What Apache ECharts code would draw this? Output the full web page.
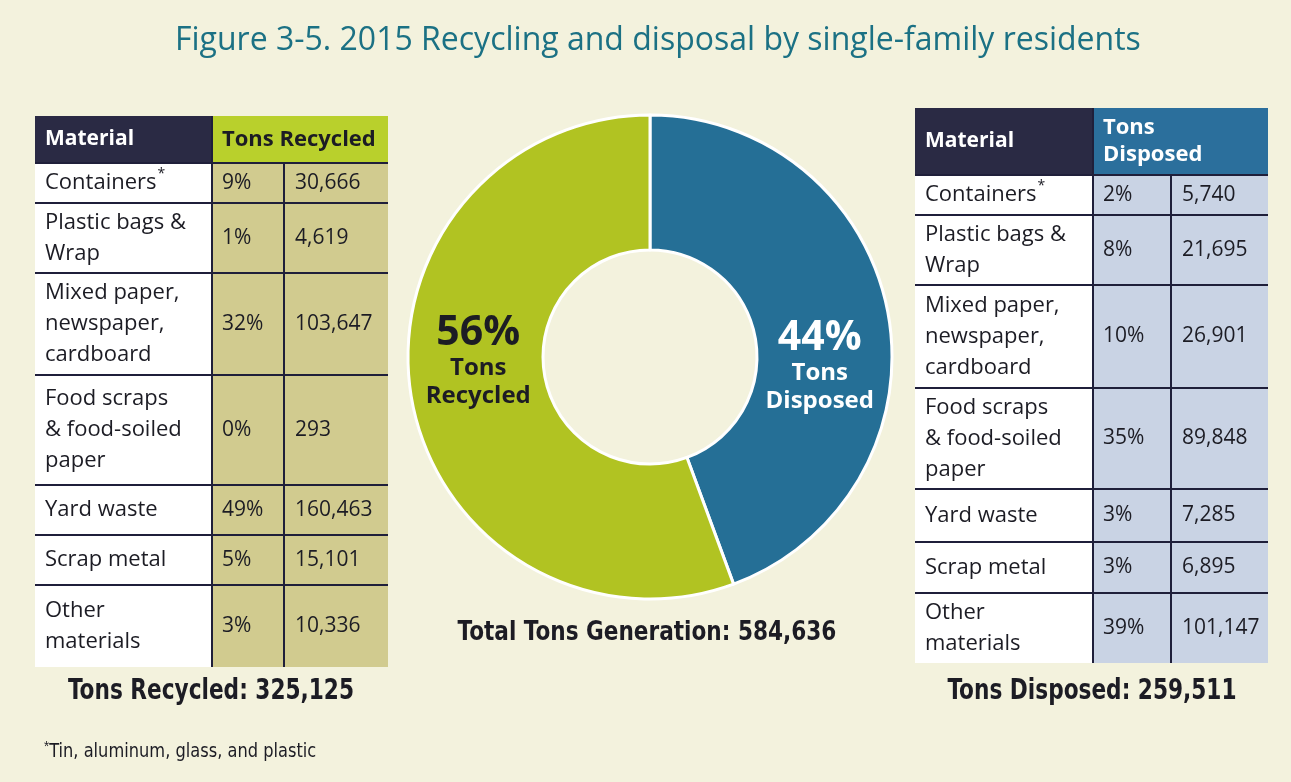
<!DOCTYPE html>
<html>
<head>
<meta charset="utf-8">
<title>2015 Recycling and disposal by single-family residents</title>
<script src="https://cdn.jsdelivr.net/npm/echarts@6/dist/echarts.min.js"></script>
<style>
  html, body { margin: 0; padding: 0; background: #f3f2dd; }
  #chart { width: 1291px; height: 782px; }
</style>
</head>
<body>
<div id="chart"></div>
<script>
// Data
const materials = [
  'Containers*',
  'Plastic bags &\nWrap',
  'Mixed paper,\nnewspaper,\ncardboard',
  'Food scraps\n& food-soiled\npaper',
  'Yard waste',
  'Scrap metal',
  'Other\nmaterials'
]
const recycledPct = [9, 1, 32, 0, 49, 5, 3]
const recycledTons = [30666, 4619, 103647, 293, 160463, 15101, 10336]
const disposedPct = [2, 8, 10, 35, 3, 3, 39]
const disposedTons = [5740, 21695, 26901, 89848, 7285, 6895, 101147]
const footnote = 'Tin, aluminum, glass, and plastic'

const sum = arr => arr.reduce((a, b) => a + b, 0)
const fmt = n => n.toLocaleString('en-US')
const totalRecycled = sum(recycledTons)
const totalDisposed = sum(disposedTons)
const totalGenerated = totalRecycled + totalDisposed

// Styles / layout
const FONT = '"Open Sans", "Noto Sans", sans-serif'
const NARROW = '"Liberation Sans Narrow", "DejaVu Sans Condensed", "Roboto Condensed", Lato, sans-serif'
const INK = '#1c1c24'
const LINE = '#1f1f3a'
const GREEN = '#b1c322'
const BLUE = '#256f96'

const leftTable = {
  x: 35, y: 116, cols: [177, 72, 104], header: 47,
  rows: [40, 70, 102, 110, 50, 50, 82],
  headText: 'Tons Recycled', headBg: '#b9d02c', headColor: INK,
  cellBg: '#d1cb8f', pct: recycledPct, tons: recycledTons
}
const rightTable = {
  x: 915, y: 108, cols: [178, 78, 97], header: 67,
  rows: [40, 70, 103, 101, 53, 51, 70],
  headText: 'Tons\nDisposed', headBg: '#2b6f9c', headColor: '#ffffff',
  cellBg: '#c9d3e4', pct: disposedPct, tons: disposedTons
}

const materialText = (m) => m.endsWith('*')
  ? { text: m.slice(0, -1) + '{s|*}', rich: { s: { fontSize: 14, verticalAlign: 'top', padding: [0, 0, 12, 1], fill: INK, fontFamily: FONT } } }
  : { text: m }

// Build table cells as graphic elements
function buildTable (t) {
  const els = []
  const x1 = t.x + t.cols[0]
  const x2 = x1 + t.cols[1]
  const x3 = x2 + t.cols[2]
  const totalH = t.header + sum(t.rows)

  // header
  els.push({ type: 'rect', shape: { x: t.x, y: t.y, width: t.cols[0], height: t.header }, style: { fill: '#2a2a44' } })
  els.push({ type: 'rect', shape: { x: x1, y: t.y, width: x3 - x1, height: t.header }, style: { fill: t.headBg } })
  els.push({ type: 'text', x: t.x + 10, y: t.y + t.header / 2, style: { text: 'Material', fill: '#ffffff', font: 'bold 21px ' + FONT, verticalAlign: 'middle' } })
  els.push({ type: 'text', x: x1 + 10, y: t.y + t.header / 2, style: { text: t.headText, fill: t.headColor, font: 'bold 22px ' + FONT, verticalAlign: 'middle', lineHeight: 27 } })

  let y = t.y + t.header
  t.rows.forEach((h, i) => {
    const cy = y + h / 2
    els.push({ type: 'rect', shape: { x: t.x, y: y, width: t.cols[0], height: h }, style: { fill: '#ffffff' } })
    els.push({ type: 'rect', shape: { x: x1, y: y, width: x3 - x1, height: h }, style: { fill: t.cellBg } })
    const mt = materialText(materials[i])
    els.push({ type: 'text', x: t.x + 10, y: cy, z: 5, style: Object.assign({ fill: INK, font: '22px ' + FONT, verticalAlign: 'middle', lineHeight: 31 }, mt) })
    els.push({ type: 'text', x: x1 + 10, y: cy, z: 5, style: { text: t.pct[i] + '%', fill: INK, font: '21px ' + FONT, verticalAlign: 'middle' } })
    els.push({ type: 'text', x: x2 + 11, y: cy, z: 5, style: { text: fmt(t.tons[i]), fill: INK, font: '21px ' + FONT, verticalAlign: 'middle' } })
    // line above row
    els.push({ type: 'line', z: 4, shape: { x1: t.x, y1: y, x2: x3, y2: y }, style: { stroke: LINE, lineWidth: 2 } })
    y += h
  })
  // vertical separators
  els.push({ type: 'line', z: 4, shape: { x1: x1, y1: t.y, x2: x1, y2: t.y + totalH }, style: { stroke: LINE, lineWidth: 2 } })
  els.push({ type: 'line', z: 4, shape: { x1: x2, y1: t.y + t.header, x2: x2, y2: t.y + totalH }, style: { stroke: LINE, lineWidth: 2 } })
  return els
}

// bold condensed caption, squeezed a little to match the original narrow face
const caption = (text, x, y, size, squeeze) => ({
  type: 'text', x: x, y: y, scaleX: squeeze,
  style: { text: text, fill: INK, font: 'bold ' + size + 'px ' + NARROW, align: 'center', verticalAlign: 'middle' }
})

const chart = echarts.init(document.getElementById('chart'))

const option = {
  backgroundColor: '#f3f2dd',
  animation: false,
  title: {
    text: 'Figure 3-5. 2015 Recycling and disposal by single-family residents',
    left: 170,
    top: 20,
    textStyle: { color: '#1b7184', fontSize: 32, fontWeight: 'normal', fontFamily: FONT }
  },
  series: [{
    type: 'pie',
    center: [650, 357],
    radius: [107, 242],
    startAngle: 90,
    clockwise: true,
    silent: true,
    itemStyle: { borderColor: '#ffffff', borderWidth: 3 },
    label: {
      position: 'inside',
      fontFamily: FONT,
      formatter: p => '{p|' + Math.round(p.percent) + '%}\n{t|' + p.name.replace(' ', '}\n{t|') + '}',
      rich: {
        p: { fontSize: 41, fontWeight: 'bold', lineHeight: 42, fontFamily: FONT },
        t: { fontSize: 24, fontWeight: 'bold', lineHeight: 28, fontFamily: FONT }
      }
    },
    labelLine: { show: false },
    data: [
      { name: 'Tons Disposed', value: totalDisposed, itemStyle: { color: BLUE },
        label: { color: '#ffffff', offset: [-5, 40], rich: { p: { color: '#ffffff' }, t: { color: '#ffffff' } } } },
      { name: 'Tons Recycled', value: totalRecycled, itemStyle: { color: GREEN },
        label: { color: INK, offset: [3, -27], rich: { p: { color: INK }, t: { color: INK } } } }
    ]
  }],
  graphic: [
    ...buildTable(leftTable),
    ...buildTable(rightTable),
    caption('Total Tons Generation: ' + fmt(totalGenerated), 647, 633, 27, 0.89),
    caption('Tons Recycled: ' + fmt(totalRecycled), 211, 692, 28, 0.86),
    caption('Tons Disposed: ' + fmt(totalDisposed), 1092, 692, 28, 0.86),
    { type: 'text', x: 44, y: 752, scaleX: 0.95, style: { text: '{s|*}' + footnote, fill: INK, font: '19px ' + NARROW, verticalAlign: 'middle', rich: { s: { fontSize: 14, verticalAlign: 'top', padding: [0, 0, 10, 0], fill: INK } } } }
  ]
}

chart.setOption(option)
window.addEventListener('resize', () => chart.resize())
</script>
</body>
</html>
